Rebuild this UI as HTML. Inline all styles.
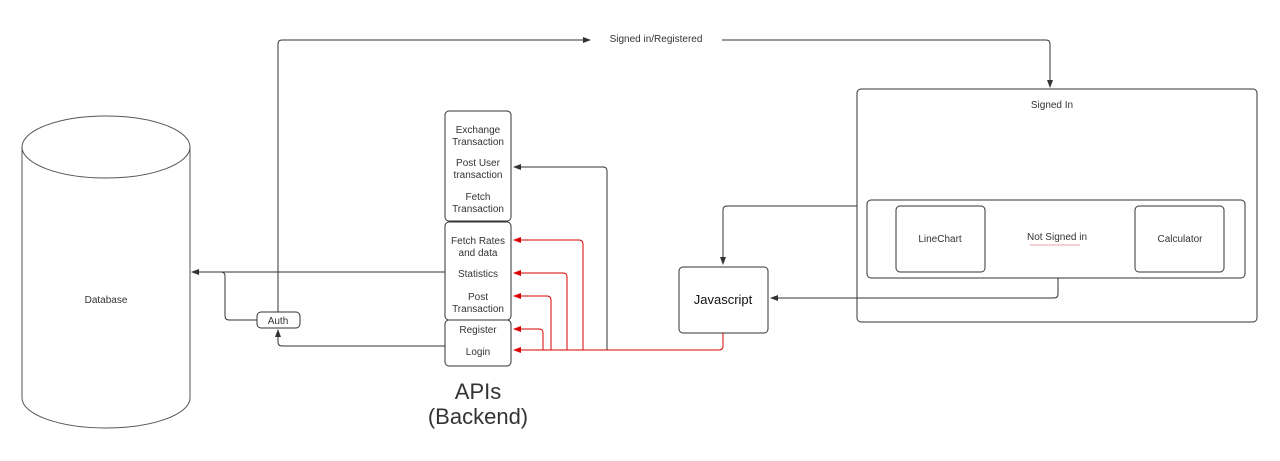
<!DOCTYPE html>
<html><head><style>
body{margin:0;background:#fff;width:1280px;height:456px;overflow:hidden;font-family:"Liberation Sans",sans-serif}
</style></head><body>
<svg width="1280" height="456" xmlns="http://www.w3.org/2000/svg" font-family="Liberation Sans, sans-serif" font-size="10" fill="#333">
<defs>
<marker id="ag" markerWidth="8" markerHeight="8" refX="7" refY="4" orient="auto" markerUnits="userSpaceOnUse"><path d="M0,1 L8,4 L0,7z" fill="#333"/></marker>
<marker id="ar" markerWidth="8" markerHeight="8" refX="7" refY="4" orient="auto" markerUnits="userSpaceOnUse"><path d="M0,1 L8,4 L0,7z" fill="#d00"/></marker>
</defs>
<g fill="none" stroke="#333" stroke-width="1">
<!-- database -->
<path d="M22,147 L22,398 A84,30 0 0 0 190,398 L190,147" stroke="#555"/>
<ellipse cx="106" cy="147" rx="84" ry="31" stroke="#555"/>
<!-- boxes -->
<rect x="445" y="111" width="66" height="110" rx="4"/>
<rect x="445" y="222" width="66" height="98" rx="4"/>
<rect x="445" y="320" width="66" height="46" rx="4"/>
<rect x="257" y="312" width="43" height="16" rx="4"/>
<rect x="679" y="267" width="89" height="66" rx="4"/>
<rect x="857" y="89" width="400" height="233" rx="4"/>
<rect x="867" y="200" width="378" height="78" rx="4"/>
<rect x="896" y="206" width="89" height="66" rx="4"/>
<rect x="1135" y="206" width="89" height="66" rx="4"/>
<!-- gray connectors -->
<path d="M445,272 L192,272" marker-end="url(#ag)"/>
<path d="M257,320 L229,320 Q225,320 225,316 L225,276 Q225,272 221,272"/>
<path d="M445,346 L282,346 Q278,346 278,342 L278,330" marker-end="url(#ag)"/>
<path d="M278,312 L278,44 Q278,40 282,40 L590,40" marker-end="url(#ag)"/>
<path d="M722,40 L1046,40 Q1050,40 1050,44 L1050,87" marker-end="url(#ag)"/>
<path d="M857,206 L727,206 Q723,206 723,210 L723,264" marker-end="url(#ag)"/>
<path d="M1058,278 L1058,294 Q1058,298 1054,298 L771,298" marker-end="url(#ag)"/>
<path d="M607,350 L607,171 Q607,167 603,167 L514,167" marker-end="url(#ag)"/>
</g>
<g fill="none" stroke="#d00" stroke-width="1">
<path d="M723,333 L723,346 Q723,350 719,350 L514,350" marker-end="url(#ar)"/>
<path d="M583,350 L583,244 Q583,240 579,240 L514,240" marker-end="url(#ar)"/>
<path d="M567,350 L567,277 Q567,273 563,273 L514,273" marker-end="url(#ar)"/>
<path d="M551,350 L551,300 Q551,296 547,296 L514,296" marker-end="url(#ar)"/>
<path d="M543,350 L543,333 Q543,329 539,329 L514,329" marker-end="url(#ar)"/>
</g>
<line x1="1030" y1="245" x2="1080" y2="245" stroke="#e8a0a8" stroke-width="1"/>
<g text-anchor="middle">
<text x="106" y="303">Database</text>
<text x="278" y="324">Auth</text>
<text x="478" y="133">Exchange</text><text x="478" y="145">Transaction</text>
<text x="478" y="166">Post User</text><text x="478" y="178">transaction</text>
<text x="478" y="200">Fetch</text><text x="478" y="212">Transaction</text>
<text x="478" y="244">Fetch Rates</text><text x="478" y="256">and data</text>
<text x="478" y="277">Statistics</text>
<text x="478" y="300">Post</text><text x="478" y="312">Transaction</text>
<text x="478" y="333">Register</text>
<text x="478" y="355">Login</text>
<text x="478" y="399" font-size="22" fill="#333">APIs</text>
<text x="478" y="424" font-size="22" fill="#333">(Backend)</text>
<text x="656" y="42">Signed in/Registered</text>
<text x="1052" y="108">Signed In</text>
<text x="940" y="242">LineChart</text>
<text x="1057" y="240">Not Signed in</text>
<text x="1180" y="242">Calculator</text>
<text x="723" y="304" font-size="13" fill="#111">Javascript</text>
</g>
</svg>
</body></html>
